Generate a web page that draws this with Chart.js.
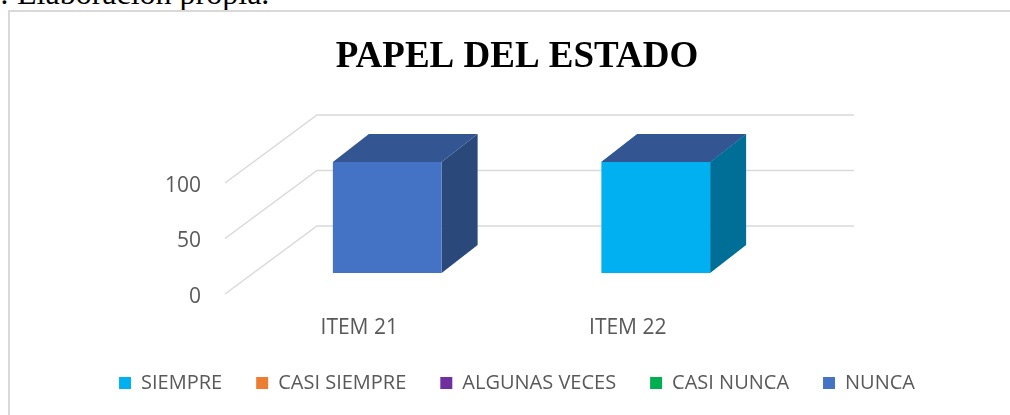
<!DOCTYPE html>
<html>
<head>
<meta charset="utf-8">
<title>Papel del Estado</title>
<script src="https://cdn.jsdelivr.net/npm/chart.js@4.4.1/dist/chart.umd.min.js"></script>
<style>
    html, body { margin: 0; padding: 0; background: #fff; overflow: hidden; }
    #wrap { position: relative; width: 1010px; height: 415px; overflow: hidden; }
    #frame { position: absolute; left: 8px; top: 10px; width: 1100px; height: 500px; border: 2px solid #d9d9d9; box-sizing: border-box; }
    #fuente { position: absolute; left: -87px; top: -23px; font: 32px/32px 'Liberation Serif', serif; white-space: nowrap; color: #000; }
    #chart { position: absolute; left: 0; top: 0; }
</style>
</head>
<body>
<div id="wrap">
    <div id="fuente">Fuente: Elaboración propia.</div>
    <div id="frame"></div>
    <canvas id="chart" width="1010" height="415"></canvas>
</div>
<script>
// Datos del gráfico
const categories = ['ITEM 21', 'ITEM 22'];
const seriesNames = ['SIEMPRE', 'CASI SIEMPRE', 'ALGUNAS VECES', 'CASI NUNCA', 'NUNCA'];
const siempre = [0, 100];
const casiSiempre = [0, 0];
const algunasVeces = [0, 0];
const casiNunca = [0, 0];
const nunca = [100, 0];
const yTicks = [0, 50, 100];

// Colores de las series
const seriesColors = ['#00B0F0', '#ED7D31', '#7030A0', '#00B050', '#4472C4'];

// Profundidad del efecto 3D (px)
const DEPTH = { wallX: 92, wallY: 68, shiftX: 28, shiftY: 21, barX: 36, barY: 28 };

function shade(hex, f) {
    const n = parseInt(hex.slice(1), 16);
    const r = Math.round(((n >> 16) & 255) * f);
    const g = Math.round(((n >> 8) & 255) * f);
    const b = Math.round((n & 255) * f);
    return `rgb(${r},${g},${b})`;
}

function fillPoly(ctx, pts, color) {
    ctx.beginPath();
    ctx.moveTo(pts[0], pts[1]);
    for (let i = 2; i < pts.length; i += 2) ctx.lineTo(pts[i], pts[i + 1]);
    ctx.closePath();
    ctx.fillStyle = color;
    ctx.fill();
}

// Plugin: paredes con líneas de cuadrícula + caras laterales y superiores
const bars3d = {
    id: 'bars3d',
    beforeDatasetsDraw(chart) {
        const ctx = chart.ctx;
        const area = chart.chartArea;
        const yScale = chart.scales.y;

        ctx.save();
        ctx.strokeStyle = '#d9d9d9';
        ctx.lineWidth = 1.5;
        yTicks.forEach(v => {
            const py = yScale.getPixelForValue(v);
            ctx.beginPath();
            ctx.moveTo(area.left, py);
            ctx.lineTo(area.left + DEPTH.wallX, py - DEPTH.wallY);
            ctx.lineTo(area.right + DEPTH.wallX, py - DEPTH.wallY);
            ctx.stroke();
        });
        ctx.restore();

        // las barras quedan en medio de la profundidad
        ctx.save();
        ctx.translate(DEPTH.shiftX, -DEPTH.shiftY);
        const last = chart.data.datasets.length - 1;
        chart.data.datasets.forEach((ds, i) => {
            const meta = chart.getDatasetMeta(i);
            if (meta.hidden) return;
            meta.data.forEach(bar => {
                const p = bar.getProps(['x', 'y', 'base', 'width'], true);
                const l = p.x - p.width / 2;
                const r = p.x + p.width / 2;
                const h = p.base - p.y;
                if (h <= 0.5 && i !== last) return;
                const dx = DEPTH.barX, dy = DEPTH.barY;
                if (h > 0.5) {
                    fillPoly(ctx, [r, p.base, r, p.y, r + dx, p.y - dy, r + dx, p.base - dy], shade(ds.backgroundColor, 0.63));
                }
                fillPoly(ctx, [l, p.y, r, p.y, r + dx, p.y - dy, l + dx, p.y - dy], shade(ds.backgroundColor, 0.75));
            });
        });
    },
    afterDatasetsDraw(chart) {
        chart.ctx.restore();
    }
};

const seriesValues = [siempre, casiSiempre, algunasVeces, casiNunca, nunca];
const tickFont = { family: "'Open Sans', sans-serif", size: 21 };

new Chart(document.getElementById('chart'), {
    type: 'bar',
    data: {
        labels: categories,
        datasets: seriesNames.map((name, i) => ({
            label: name,
            data: seriesValues[i],
            backgroundColor: seriesColors[i],
            borderWidth: 0,
            barPercentage: 0.405,
            categoryPercentage: 1,
            clip: false
        }))
    },
    options: {
        responsive: false,
        animation: false,
        layout: { padding: { left: 24, right: 0, top: 12, bottom: 12 } },
        plugins: {
            title: {
                display: true,
                text: 'PAPEL DEL ESTADO',
                color: '#000',
                font: { family: "'Liberation Serif', serif", size: 37, weight: 'bold' },
                padding: { top: 23, bottom: 103.6 }
            },
            legend: {
                position: 'bottom',
                labels: {
                    boxWidth: 12,
                    boxHeight: 12,
                    padding: 34,
                    color: '#595959',
                    font: { family: "'Open Sans', sans-serif", size: 20 }
                }
            },
            tooltip: { enabled: false }
        },
        scales: {
            x: {
                stacked: true,
                grid: { display: false },
                border: { display: false },
                ticks: { color: '#595959', font: tickFont, padding: 13 },
                afterFit: s => { s.height = 45; }
            },
            y: {
                stacked: true,
                min: 0,
                max: 100,
                grid: { display: false },
                border: { display: false },
                afterBuildTicks: s => { s.ticks = yTicks.map(v => ({ value: v })); },
                ticks: { color: '#595959', font: tickFont, padding: 16, labelOffset: 3 },
                afterFit: s => { s.width = 201; }
            },
            y2: {
                type: 'linear',
                position: 'right',
                grid: { display: false },
                border: { display: false },
                ticks: { display: false },
                afterFit: s => { s.width = 248; }
            }
        }
    },
    plugins: [bars3d]
});
</script>
</body>
</html>
